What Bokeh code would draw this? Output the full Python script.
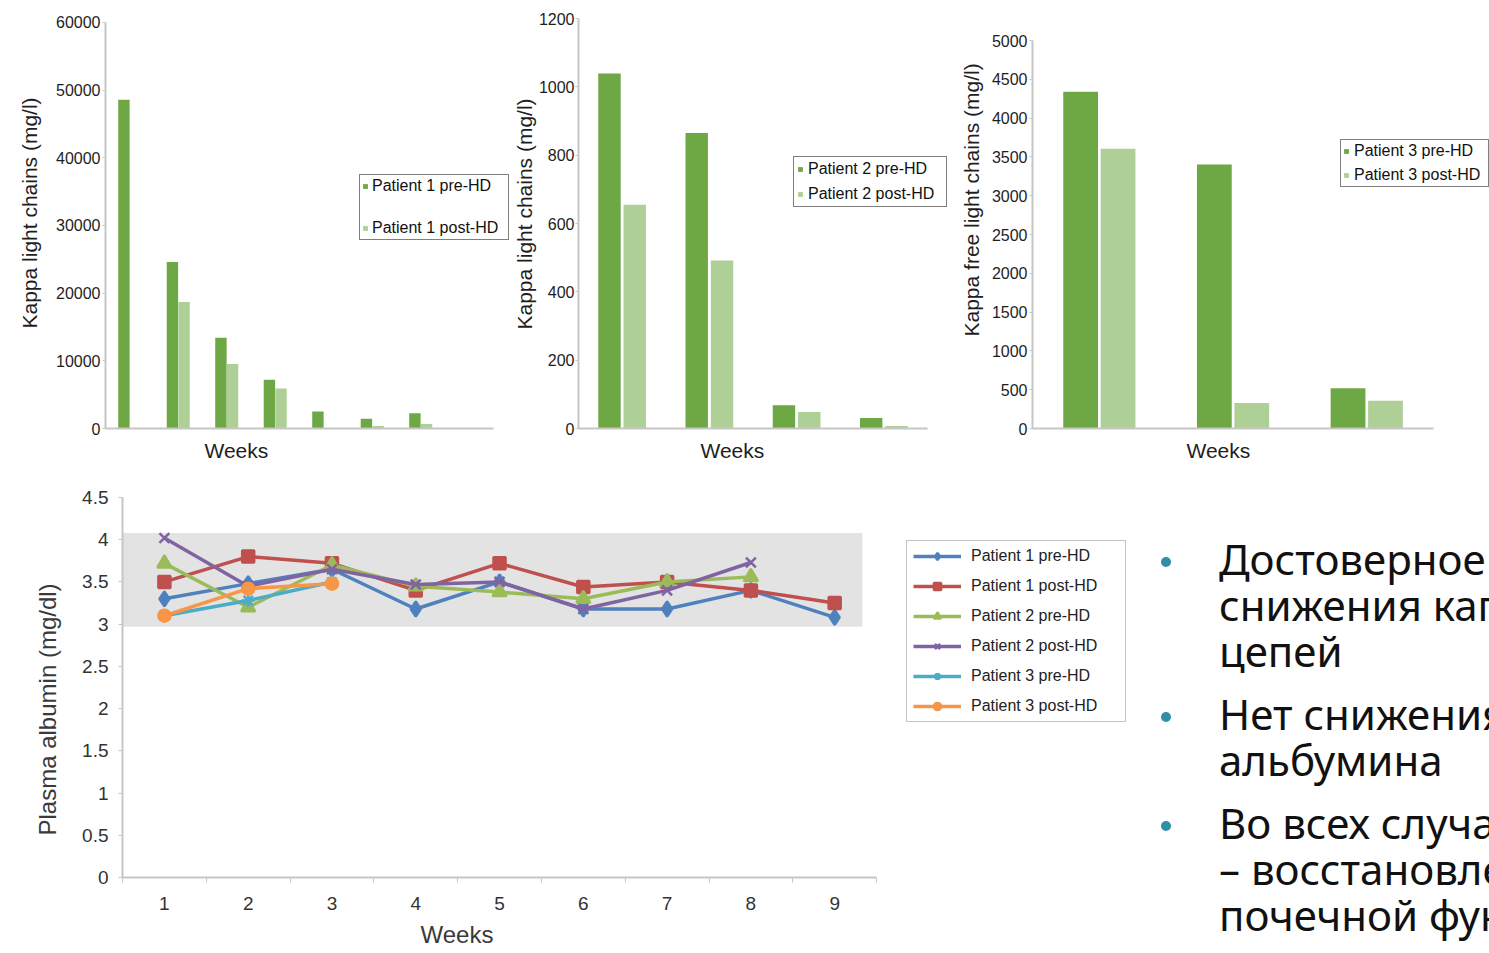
from bokeh.embed import file_html
from bokeh.layouts import column, row
from bokeh.models import (ColumnDataSource, Div, FixedTicker, Legend,
                          LegendItem, Range1d, Title)
from bokeh.plotting import figure
from bokeh.resources import INLINE
from bokeh.transform import dodge

# ---- kappa light chains before / after haemodialysis (mg/l) ----
p1_slots = [0, 1, 2, 3, 4, 5, 6, 7]
p1_pre = [48600, 24600, 13400, 7200, 2500, 1450, 2250, 0]
p1_post = [0, 18700, 9550, 5900, 0, 380, 650, 0]
p1_ticks = [0, 10000, 20000, 30000, 40000, 50000, 60000]
p1_labels = ["Patient 1 pre-HD", "Patient 1 post-HD"]

p2_slots = [0, 1, 2, 3]
p2_pre = [1039, 865, 68, 31]
p2_post = [655, 492, 48, 7]
p2_ticks = [0, 200, 400, 600, 800, 1000, 1200]
p2_labels = ["Patient 2 pre-HD", "Patient 2 post-HD"]

p3_slots = [0, 1, 2]
p3_pre = [4340, 3403, 518]
p3_post = [3605, 328, 358]
p3_ticks = [0, 500, 1000, 1500, 2000, 2500, 3000, 3500, 4000, 4500, 5000]
p3_labels = ["Patient 3 pre-HD", "Patient 3 post-HD"]

# ---- plasma albumin (mg/dl) by week ----
weeks = [1, 2, 3, 4, 5, 6, 7, 8, 9]
alb_p1_pre = [3.3, 3.48, 3.65, 3.18, 3.5, 3.18, 3.18, 3.4, 3.08]
alb_p1_post = [3.5, 3.8, 3.72, 3.4, 3.72, 3.44, 3.5, 3.4, 3.25]
alb_p2_pre = [3.72, 3.2, 3.7, 3.45, 3.38, 3.3, 3.5, 3.56]
alb_p2_post = [4.02, 3.45, 3.65, 3.47, 3.5, 3.18, 3.4, 3.73]
alb_p3_pre = [3.1, 3.28, 3.5]
alb_p3_post = [3.1, 3.42, 3.48]
alb_names = ["Patient 1 pre-HD", "Patient 1 post-HD", "Patient 2 pre-HD",
             "Patient 2 post-HD", "Patient 3 pre-HD", "Patient 3 post-HD"]
albumin_ticks = [0, 0.5, 1, 1.5, 2, 2.5, 3, 3.5, 4, 4.5]
albumin_tick_labels = ["0", "0.5", "1", "1.5", "2", "2.5", "3", "3.5", "4", "4.5"]
albumin_ref_low = 2.97
albumin_ref_high = 4.08
ref_band_end = 9.33

bullet_points = [
    ["Достоверное", "снижения кап", "цепей"],
    ["Нет снижения", "альбумина"],
    ["Во всех случа", "– восстановле", "почечной фун"],
]

FONT = "Liberation Sans"
PRE_GREEN = "#6da844"
POST_GREEN = "#aed096"
AXIS_GRAY = "#c6c6c6"
TEXT = "#1e1e1e"


def style_common(p):
    p.grid.visible = False
    p.outline_line_color = None
    p.background_fill_color = "white"
    p.border_fill_color = "white"


def side_title(p, text, side, offset, standoff, size, color=TEXT):
    p.add_layout(Title(text=text, align="left", offset=offset,
                       standoff=standoff, text_font=FONT,
                       text_font_size=size, text_font_style="normal",
                       text_color=color), side)


def kappa_chart(slots, pre, post, ticks, labels, width, left, label_gap,
                x_end, y_end, bar_w, off, leg_loc, leg_pad, leg_spacing,
                leg_width, leg_standoff, ytitle, ytitle_offset,
                ytitle_standoff, weeks_offset):
    # all three panels share the same frame top / bottom (18 px / 42 px)
    p = figure(width=width, height=470, x_range=Range1d(0, x_end),
               y_range=Range1d(0, y_end), output_backend="svg",
               toolbar_location=None, min_border_left=left,
               min_border_right=0, min_border_top=18, min_border_bottom=42)
    style_common(p)
    src = ColumnDataSource(dict(slot=[s + 0.5 for s in slots], pre=pre,
                                post=post))
    r_pre = p.vbar(x=dodge("slot", -off), top="pre", width=bar_w, source=src,
                   fill_color=PRE_GREEN, line_color=None)
    r_post = p.vbar(x=dodge("slot", off), top="post", width=bar_w,
                    source=src, fill_color=POST_GREEN, line_color=None)

    p.xaxis.ticker = FixedTicker(ticks=[])
    p.xaxis.bounds = (0, len(slots))
    p.xaxis.axis_line_color = AXIS_GRAY
    p.xaxis.axis_line_width = 2
    p.xaxis.major_tick_line_color = None
    p.xaxis.minor_tick_line_color = None
    p.xaxis.major_tick_out = 0
    p.xaxis.major_label_standoff = 0

    p.yaxis.ticker = FixedTicker(ticks=ticks)
    p.yaxis.bounds = (ticks[0], ticks[-1])
    p.yaxis.axis_line_color = AXIS_GRAY
    p.yaxis.axis_line_width = 2
    p.yaxis.major_tick_line_color = AXIS_GRAY
    p.yaxis.major_tick_out = 3
    p.yaxis.major_tick_in = 0
    p.yaxis.minor_tick_line_color = None
    p.yaxis.major_label_standoff = label_gap
    p.yaxis.major_label_text_font = FONT
    p.yaxis.major_label_text_font_size = "16px"
    p.yaxis.major_label_text_color = TEXT

    legend = Legend(items=[LegendItem(label=labels[0], renderers=[r_pre]),
                           LegendItem(label=labels[1], renderers=[r_post])],
                    location=leg_loc, orientation="vertical",
                    border_line_color="black", border_line_width=1,
                    background_fill_color="white", background_fill_alpha=1.0,
                    glyph_width=6, glyph_height=6, label_height=18,
                    label_width=leg_width, label_standoff=leg_standoff,
                    padding=leg_pad, spacing=leg_spacing, margin=0,
                    label_text_font=FONT, label_text_font_size="16px",
                    label_text_color="#111111")
    p.add_layout(legend)

    side_title(p, ytitle, "left", ytitle_offset, ytitle_standoff, "21px")
    side_title(p, "Weeks", "below", weeks_offset, 16, "21px")
    return p


p1 = kappa_chart(p1_slots, p1_pre, p1_post, p1_ticks, p1_labels,
                 510, 105, 2, 8.351, 60591, 0.235, 0.12,
                 (254, 188), 2, 24, 134, 4,
                 "Kappa light chains (mg/l)", 100, 26, 99)
p2 = kappa_chart(p2_slots, p2_pre, p2_post, p2_ticks, p2_labels,
                 440, 68, 1, 4.264, 1200, 0.257, 0.145,
                 (215, 221), 3, 7, 135, 5,
                 "Kappa light chains (mg/l)", 99, 0, 122)
p3 = kappa_chart(p3_slots, p3_pre, p3_post, p3_ticks, p3_labels,
                 539, 82, 2, 3.418, 5284, 0.26, 0.14,
                 (308, 241), 2, 6, 132, 5,
                 "Kappa free light chains (mg/l)", 92, 12, 154)

# ---- albumin line chart ----
p4 = figure(width=1140, height=483, x_range=Range1d(0.5, 12.65),
            y_range=Range1d(albumin_ticks[0], albumin_ticks[-1]),
            output_backend="svg", toolbar_location=None,
            min_border_left=122, min_border_right=0,
            min_border_top=27, min_border_bottom=76)
style_common(p4)
p4.quad(left=[0.5], right=[ref_band_end], bottom=[albumin_ref_low],
        top=[albumin_ref_high], fill_color="#e3e3e3", line_color=None)

alb_series = [alb_p1_pre, alb_p1_post, alb_p2_pre, alb_p2_post,
              alb_p3_pre, alb_p3_post]
alb_colors = ["#4f81bd", "#c0504d", "#9bbb59", "#8064a2", "#4bacc6", "#f79646"]
alb_markers = ["diamond", "square", "triangle", "x", "asterisk", "circle"]
alb_sizes = [15, 12, 14, 14, 13, 12]

items = []
for name, vals, color, marker, msize in zip(alb_names, alb_series, alb_colors,
                                             alb_markers, alb_sizes):
    src = ColumnDataSource(dict(week=weeks[:len(vals)], alb=vals))
    lr = p4.line("week", "alb", source=src, line_color=color, line_width=3.5)
    sr = p4.scatter("week", "alb", source=src, marker=marker, size=msize,
                    fill_color=color, line_color=color, line_width=2.5)
    items.append(LegendItem(label=name, renderers=[lr, sr]))

p4.add_layout(Legend(items=items, location=(784, 155),
                     border_line_color="#8a8a8a", border_line_width=1,
                     background_fill_color="white", background_fill_alpha=1.0,
                     glyph_width=48, glyph_height=18, label_height=18,
                     label_width=148, label_standoff=10, padding=6,
                     spacing=12, margin=0, label_text_font=FONT,
                     label_text_font_size="16px", label_text_color="#222222"))

p4.xaxis.ticker = FixedTicker(ticks=weeks,
                              minor_ticks=[w - 0.5 for w in weeks] + [weeks[-1] + 0.5])
p4.xaxis.bounds = (0.5, weeks[-1] + 0.5)
p4.xaxis.axis_line_color = AXIS_GRAY
p4.xaxis.axis_line_width = 2
p4.xaxis.major_tick_line_color = None
p4.xaxis.major_tick_out = 0
p4.xaxis.minor_tick_line_color = AXIS_GRAY
p4.xaxis.minor_tick_out = 5
p4.xaxis.minor_tick_in = 0
p4.xaxis.major_label_standoff = 14
p4.xaxis.major_label_text_font = FONT
p4.xaxis.major_label_text_font_size = "19px"
p4.xaxis.major_label_text_color = "#333333"

p4.yaxis.ticker = FixedTicker(ticks=albumin_ticks)
p4.yaxis.major_label_overrides = dict(zip(albumin_ticks, albumin_tick_labels))
p4.yaxis.axis_line_color = AXIS_GRAY
p4.yaxis.axis_line_width = 2
p4.yaxis.major_tick_line_color = AXIS_GRAY
p4.yaxis.major_tick_out = 4
p4.yaxis.major_tick_in = 0
p4.yaxis.minor_tick_line_color = None
p4.yaxis.major_label_standoff = 10
p4.yaxis.major_label_text_font = FONT
p4.yaxis.major_label_text_font_size = "19px"
p4.yaxis.major_label_text_color = "#333333"

side_title(p4, "Plasma albumin (mg/dl)", "left", 42, 38, "24px", "#3a3a3a")
side_title(p4, "Weeks", "below", 298, 12, "24px", "#3a3a3a")

# ---- bullet text panel ----
line_pitch = 46
group_gap = 17
first_baseline = 100
text_left = 74
bullet_left = 16
parts = ['<div style="position:relative;width:349px;height:483px;'
         'overflow:hidden;font-family:\'Noto Sans\',sans-serif;'
         'color:#111111;">']
baseline = first_baseline
for group in bullet_points:
    parts.append('<div style="position:absolute;left:%dpx;top:%dpx;'
                 'width:10px;height:10px;border-radius:50%%;'
                 'background:#2f8ea8;"></div>' % (bullet_left, baseline - 18))
    for line in group:
        parts.append('<div style="position:absolute;left:%dpx;top:%dpx;'
                     'font-size:42px;line-height:42px;white-space:nowrap;">'
                     '%s</div>' % (text_left, baseline - 37, line))
        baseline += line_pitch
    baseline += group_gap
parts.append("</div>")
notes = Div(text="".join(parts), width=349, height=483)

layout = column(row(p1, p2, p3), row(p4, notes))
open("out.html", "w").write(file_html(layout, INLINE))
